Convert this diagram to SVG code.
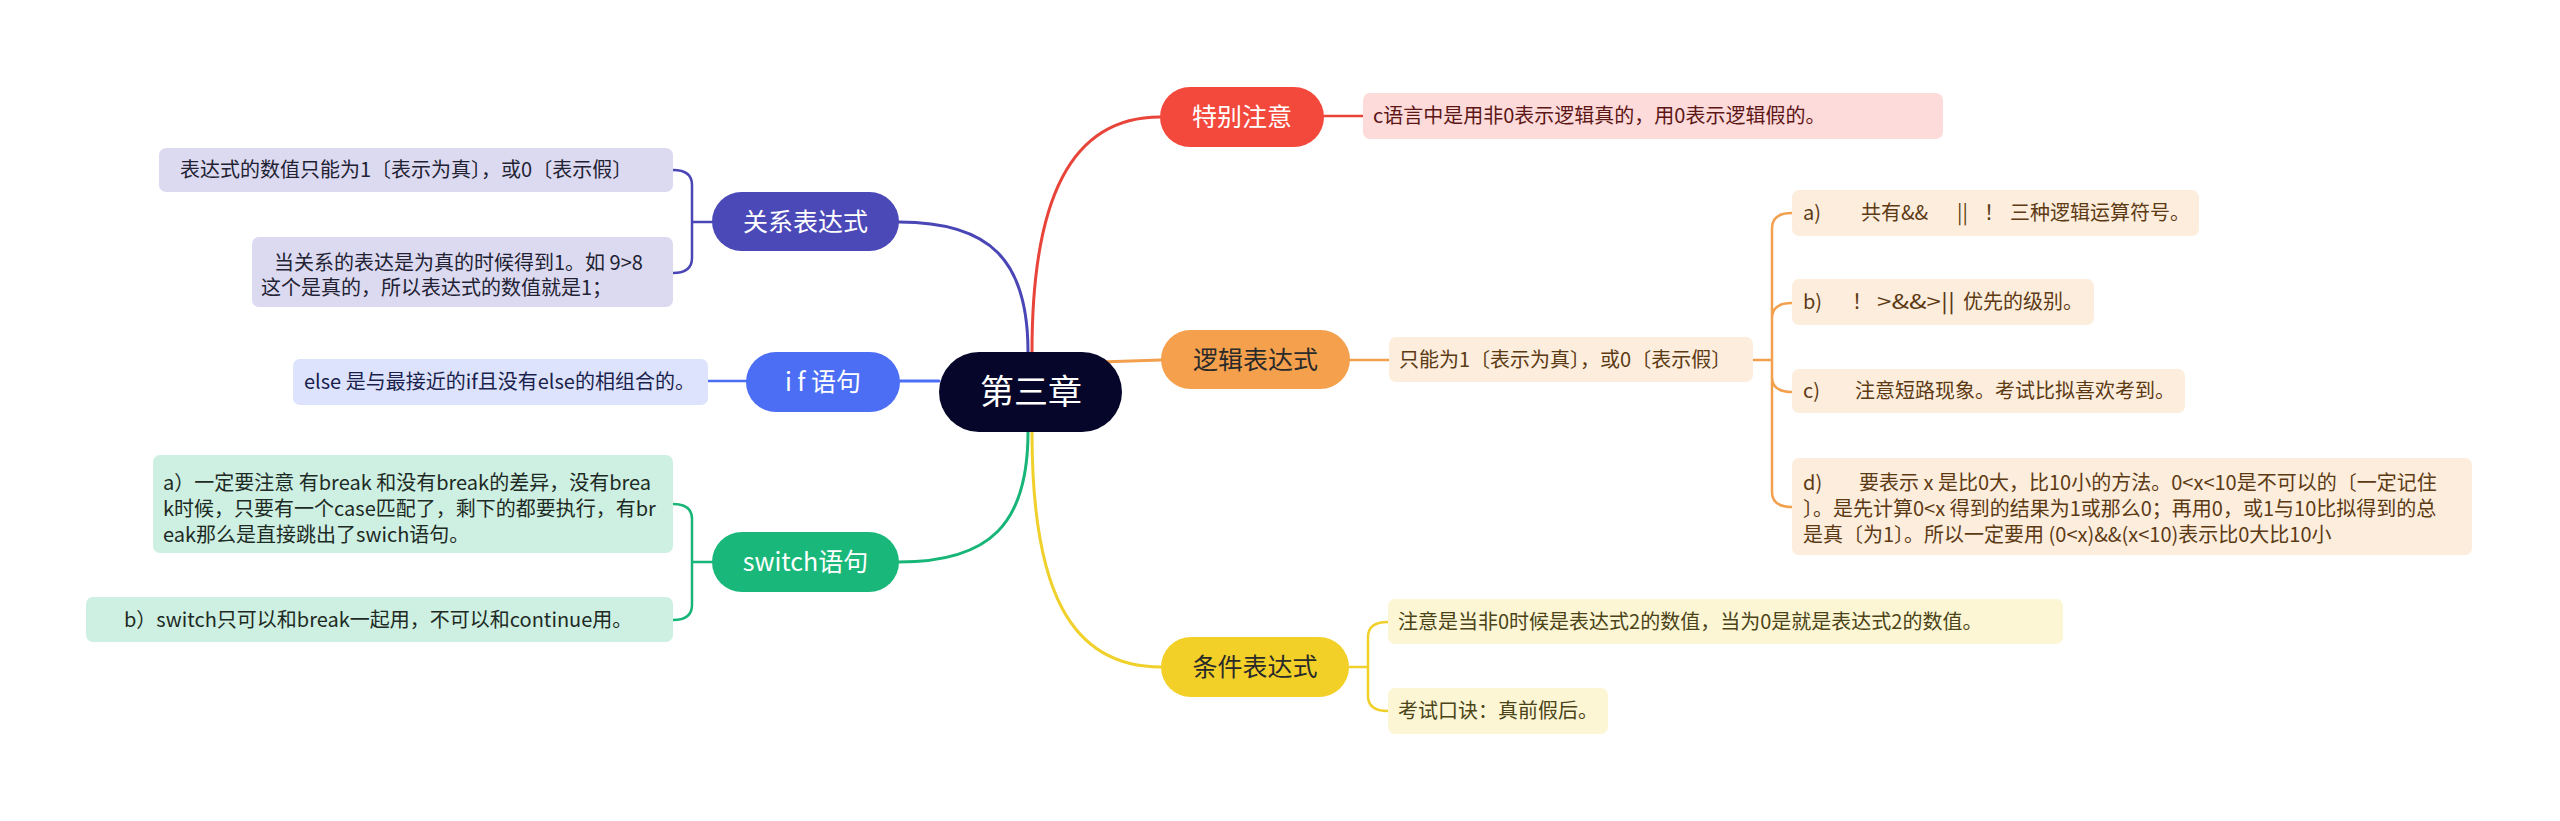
<svg xmlns="http://www.w3.org/2000/svg" width="2560" height="821" viewBox="0 0 2560 821">
<style>
text{font-family:"Noto Sans CJK SC","Noto Sans",sans-serif;}
.node{font-size:25px;text-anchor:middle;}
.leaf{font-size:20px;}
.c{fill:none;stroke-width:3;stroke-linecap:round;}
.b{fill:none;stroke-width:2.5;stroke-linecap:round;}
</style>
<rect width="2560" height="821" fill="#ffffff"/>
<g id="connectors">
  <path class="c" stroke="#e8443a" d="M1032 352 C1032 200 1070 117 1160 117"/>
  <path class="c" stroke="#4a46b6" d="M1028 352 C1028 260 990 222 899 222"/>
  <path class="c" stroke="#4c6ef5" d="M939 381 L900 381"/>
  <path class="c" stroke="#18b578" d="M1028 432 C1028 524 990 562 899 562"/>
  <path class="c" stroke="#f0d02a" d="M1032 432 C1032 590 1070 667 1161 667"/>
  <path class="c" stroke="#f2a04e" d="M1100 362 L1161 360"/>
  <path class="b" stroke="#e8443a" d="M1324 116 L1363 116"/>
  <path class="b" stroke="#f2a04e" d="M1350 360 L1389 360"/>
  <path class="b" stroke="#f2a04e" d="M1753 360 L1772 360 M1792 213 Q1772 213 1772 228 L1772 492 Q1772 507 1792 507 M1772 318 Q1772 303 1792 303 M1772 377 Q1772 392 1792 392"/>
  <path class="b" stroke="#f0d02a" d="M1349 667 L1368 667 M1388 622 Q1368 622 1368 637 L1368 696 Q1368 711 1388 711"/>
  <path class="b" stroke="#4a46b6" d="M712 222 L692 222 M673 170 Q692 170 692 185 L692 258 Q692 273 673 273"/>
  <path class="b" stroke="#4c6ef5" d="M746 381 L708 381"/>
  <path class="b" stroke="#18b578" d="M712 562 L692 562 M673 504 Q692 504 692 519 L692 605 Q692 620 673 620"/>
</g>
<g id="center">
  <rect x="939" y="352" width="183" height="80" rx="40" fill="#06062a"/>
  <text x="1031" y="404" font-size="34" text-anchor="middle" fill="#ffffff">第三章</text>
</g>
<g id="n-special">
  <rect x="1160" y="87" width="164" height="60" rx="30" fill="#f3493c"/>
  <text class="node" x="1242" y="126" fill="#ffffff">特别注意</text>
</g>
<g id="n-special-1">
  <rect x="1363" y="93" width="580" height="46" rx="7" fill="#fddbdb"/>
  <text class="leaf" x="1373" y="123" fill="#5c1616">c语言中是用非0表示逻辑真的，用0表示逻辑假的。</text>
</g>
<g id="n-logic">
  <rect x="1161" y="330" width="189" height="59" rx="29.5" fill="#f5a04d"/>
  <text class="node" x="1255.5" y="368.5" fill="#2a2a2a">逻辑表达式</text>
</g>
<g id="n-logic-1">
  <rect x="1389" y="337" width="364" height="45" rx="7" fill="#fdeddc"/>
  <text class="leaf" x="1399" y="366.5" fill="#5c3a14">只能为1〔表示为真〕，或0〔表示假〕</text>
</g>
<g id="n-logic-a">
  <rect x="1792" y="190" width="407" height="46" rx="7" fill="#fdeddc"/>
  <text class="leaf" y="220" fill="#5c3a14"><tspan x="1803">a)</tspan><tspan x="1861">共有&amp;&amp;</tspan><tspan x="1957">||</tspan><tspan x="1984">！</tspan><tspan x="2010">三种逻辑运算符号。</tspan></text>
</g>
<g id="n-logic-b">
  <rect x="1792" y="279" width="302" height="46" rx="7" fill="#fdeddc"/>
  <text class="leaf" y="309" fill="#5c3a14"><tspan x="1803">b)</tspan><tspan x="1852">！</tspan><tspan x="1877" textLength="78" lengthAdjust="spacingAndGlyphs">&gt;&amp;&amp;&gt;||</tspan><tspan x="1963">优先的级别。</tspan></text>
</g>
<g id="n-logic-c">
  <rect x="1792" y="369" width="393" height="44" rx="7" fill="#fdeddc"/>
  <text class="leaf" y="398" fill="#5c3a14"><tspan x="1803">c)</tspan><tspan x="1855">注意短路现象。考试比拟喜欢考到。</tspan></text>
</g>
<g id="n-logic-d">
  <rect x="1792" y="458" width="680" height="97" rx="7" fill="#fdeddc"/>
  <text class="leaf" fill="#5c3a14"><tspan x="1803" y="490">d)</tspan><tspan x="1859" y="490">要表示 x 是比0大，比10小的方法。0&lt;x&lt;10是不可以的〔一定记住</tspan><tspan x="1803" y="516">〕。是先计算0&lt;x 得到的结果为1或那么0；再用0，或1与10比拟得到的总</tspan><tspan x="1803" y="542">是真〔为1〕。所以一定要用 (0&lt;x)&amp;&amp;(x&lt;10)表示比0大比10小</tspan></text>
</g>
<g id="n-cond">
  <rect x="1161" y="637" width="188" height="60" rx="30" fill="#f2d027"/>
  <text class="node" x="1255" y="676" fill="#2a2a2a">条件表达式</text>
</g>
<g id="n-cond-1">
  <rect x="1388" y="599" width="675" height="45" rx="7" fill="#fdf6d4"/>
  <text class="leaf" x="1398" y="628.5" fill="#4a4418">注意是当非0时候是表达式2的数值，当为0是就是表达式2的数值。</text>
</g>
<g id="n-cond-2">
  <rect x="1388" y="688" width="220" height="46" rx="7" fill="#fdf6d4"/>
  <text class="leaf" x="1398" y="718" fill="#4a4418">考试口诀：真前假后。</text>
</g>
<g id="n-rel">
  <rect x="712" y="192" width="187" height="59" rx="29.5" fill="#4b48b8"/>
  <text class="node" x="805.5" y="230.5" fill="#ffffff">关系表达式</text>
</g>
<g id="n-rel-1">
  <rect x="159" y="148" width="514" height="44" rx="7" fill="#dcdaf1"/>
  <text class="leaf" x="180" y="177" fill="#222233">表达式的数值只能为1〔表示为真〕，或0〔表示假〕</text>
</g>
<g id="n-rel-2">
  <rect x="252" y="237" width="421" height="70" rx="7" fill="#dcdaf1"/>
  <text class="leaf" fill="#222233"><tspan x="274" y="270">当关系的表达是为真的时候得到1。如 9&gt;8</tspan><tspan x="261" y="295">这个是真的，所以表达式的数值就是1；</tspan></text>
</g>
<g id="n-if">
  <rect x="746" y="352" width="154" height="60" rx="30" fill="#4c6ef5"/>
  <text class="node" x="823" y="391" fill="#ffffff">i f 语句</text>
</g>
<g id="n-if-1">
  <rect x="293" y="359" width="415" height="46" rx="7" fill="#dde3fc"/>
  <text class="leaf" x="304" y="389" fill="#1a1f4d">else 是与最接近的if且没有else的相组合的。</text>
</g>
<g id="n-switch">
  <rect x="712" y="532" width="187" height="60" rx="30" fill="#19b87a"/>
  <text class="node" x="805.5" y="571" fill="#ffffff">switch语句</text>
</g>
<g id="n-switch-a">
  <rect x="153" y="455" width="520" height="98" rx="7" fill="#cdf0e2"/>
  <text class="leaf" fill="#1e2a24"><tspan x="163" y="490">a）一定要注意 有break 和没有break的差异，没有brea</tspan><tspan x="163" y="516">k时候，只要有一个case匹配了，剩下的都要执行，有br</tspan><tspan x="163" y="542">eak那么是直接跳出了swich语句。</tspan></text>
</g>
<g id="n-switch-b">
  <rect x="86" y="597" width="587" height="45" rx="7" fill="#cdf0e2"/>
  <text class="leaf" x="124" y="626.5" fill="#1e2a24">b）switch只可以和break一起用，不可以和continue用。</text>
</g>
</svg>
